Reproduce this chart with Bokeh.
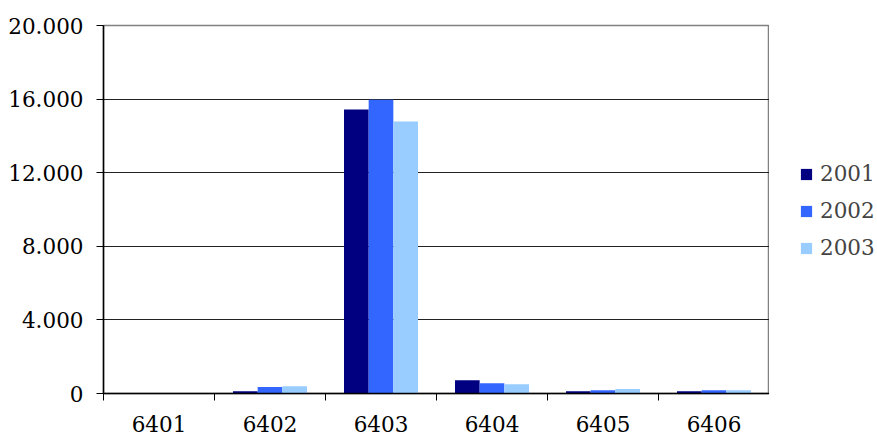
from bokeh.plotting import figure
from bokeh.layouts import row
from bokeh.models import ColumnDataSource, FixedTicker, CustomJSTickFormatter, Range1d, Legend, LegendItem
from bokeh.transform import dodge
from bokeh.embed import file_html
from bokeh.resources import INLINE

categories = ["6401", "6402", "6403", "6404", "6405", "6406"]
years = ["2001", "2002", "2003"]
v2001 = [0, 125, 15430, 725, 125, 125]
v2002 = [0, 360, 15960, 560, 180, 180]
v2003 = [0, 400, 14780, 505, 250, 180]
colors = ["#000080", "#3366FF", "#99CCFF"]
y_ticks = [0, 4000, 8000, 12000, 16000, 20000]

FONT = "DejaVu Serif"
FS = "21.5px"

xpos = [i + 0.5 for i in range(len(categories))]
src = ColumnDataSource(dict(x=xpos, cat=categories, y2001=v2001, y2002=v2002, y2003=v2003))

p = figure(frame_width=666, frame_height=368, output_backend="svg", toolbar_location=None,
           x_range=Range1d(0, len(categories)), y_range=Range1d(0, 20000),
           min_border_left=103, min_border_right=0, min_border_top=25, min_border_bottom=46)

bw = 2 / 9
for k, (yr, col) in enumerate(zip(years, colors)):
    p.vbar(x=dodge("x", (k - 1) * bw, range=p.x_range), top="y" + yr, width=bw,
           source=src, fill_color=col, line_color=None)

# x axis: labels at centers, ticks at category boundaries
p.xaxis.ticker = FixedTicker(ticks=xpos, minor_ticks=list(range(len(categories) + 1)))
p.xaxis.major_label_overrides = {x: c for x, c in zip(xpos, categories)}
p.xaxis.major_tick_line_color = None
p.xaxis.minor_tick_line_color = "black"
p.xaxis.minor_tick_out = 7
p.xaxis.minor_tick_in = 0
p.xaxis.axis_line_color = "black"
p.xaxis.axis_line_width = 1.5
p.xaxis.major_label_text_font = FONT
p.xaxis.major_label_text_font_size = FS
p.xaxis.major_label_text_color = "black"
p.xaxis.major_label_standoff = 15

p.yaxis.ticker = FixedTicker(ticks=y_ticks)
p.yaxis.formatter = CustomJSTickFormatter(code="""
return Math.round(tick).toString().replace(/\\B(?=(\\d{3})+(?!\\d))/g, ".");
""")
p.yaxis.minor_tick_line_color = None
p.yaxis.major_tick_out = 7
p.yaxis.major_tick_in = 0
p.yaxis.axis_line_color = "black"
p.yaxis.axis_line_width = 1.5
p.yaxis.major_label_text_font = FONT
p.yaxis.major_label_text_font_size = FS
p.yaxis.major_label_text_color = "black"
p.yaxis.major_label_standoff = 13

p.xgrid.grid_line_color = None
p.ygrid.ticker = FixedTicker(ticks=y_ticks)
p.ygrid.grid_line_color = "#222222"
p.ygrid.grid_line_width = 1

p.outline_line_color = "#808080"
p.outline_line_width = 1.5

# legend panel as a separate narrow figure to the right
lg = figure(width=108, height=439, output_backend="svg", toolbar_location=None,
            x_range=Range1d(0, 1), y_range=Range1d(0, 1),
            min_border_left=0, min_border_right=0, min_border_top=0, min_border_bottom=0)
lg.axis.visible = False
lg.grid.visible = False
lg.outline_line_color = None
items = []
for yr, col in zip(years, colors):
    r = lg.vbar(x=[-5], bottom=[-5], top=[-4], width=0.1, fill_color=col, line_color=None)
    items.append(LegendItem(label=yr, renderers=[r]))

legend = Legend(items=items, location=(30, 133), border_line_color=None, background_fill_alpha=0,
                label_text_font=FONT, label_text_font_size=FS, label_height=25,
                glyph_width=14, glyph_height=14, label_standoff=7, spacing=12,
                padding=0, margin=0)
lg.add_layout(legend, "center")

layout = row(p, lg, spacing=0)
open("out.html", "w").write(file_html(layout, INLINE))
